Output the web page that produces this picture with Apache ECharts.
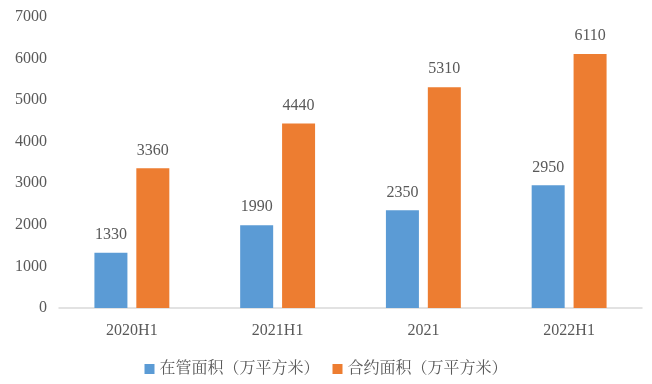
<!DOCTYPE html>
<html><head><meta charset="utf-8">
<script src="https://cdn.jsdelivr.net/npm/echarts@6/dist/echarts.min.js"></script>
<style>html,body{margin:0;padding:0;background:#fff}#c{width:652px;height:384px}</style>
</head><body><div id="c"></div>
<script>
const categories = ['2020H1', '2021H1', '2021', '2022H1'];
const managedArea = [1330, 1990, 2350, 2950];
const contractArea = [3360, 4440, 5310, 6110];
const seriesNames = ['在管面积（万平方米）', '合约面积（万平方米）'];
const yTicks = { min: 0, max: 7000, interval: 1000 };

const font = '"Liberation Serif", "Noto Serif CJK SC", "Noto Sans CJK SC", serif';
const txt = '#595959';
const chart = echarts.init(document.getElementById('c'));
chart.setOption({
  animation: false,
  backgroundColor: '#fff',
  textStyle: { fontFamily: font },
  grid: { left: 59, right: 10, top: 17, bottom: 76 },
  legend: {
    bottom: 2, left: 'center', itemWidth: 10, itemHeight: 10, itemGap: 13,
    icon: 'rect',
    textStyle: { color: txt, fontSize: 16, fontFamily: font },
    data: seriesNames
  },
  xAxis: {
    type: 'category', data: categories,
    axisLine: { lineStyle: { color: '#d9d9d9', width: 1.5 } },
    axisTick: { show: false },
    axisLabel: { color: txt, fontSize: 16, margin: 15, fontFamily: font }
  },
  yAxis: {
    type: 'value', min: yTicks.min, max: yTicks.max, interval: yTicks.interval,
    splitLine: { show: false }, axisLine: { show: false }, axisTick: { show: false },
    axisLabel: { color: txt, fontSize: 16, margin: 12, fontFamily: font, formatter: v => String(v) }
  },
  series: [
    { name: seriesNames[0], type: 'bar', data: managedArea, barWidth: 33, barGap: '27%',
      itemStyle: { color: '#5B9BD5' },
      label: { show: true, position: 'top', distance: 10, color: txt, fontSize: 16, fontFamily: font } },
    { name: seriesNames[1], type: 'bar', data: contractArea, barWidth: 33, barGap: '27%',
      itemStyle: { color: '#ED7D31' },
      label: { show: true, position: 'top', distance: 10, color: txt, fontSize: 16, fontFamily: font } }
  ]
});
</script></body></html>
